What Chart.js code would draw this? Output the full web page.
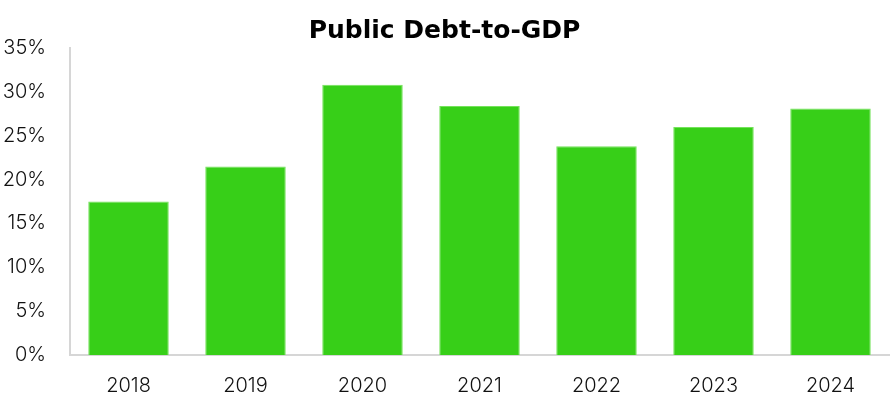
<!DOCTYPE html>
<html>
<head>
<meta charset="utf-8">
<script src="https://cdn.jsdelivr.net/npm/chart.js@4.4.1/dist/chart.umd.min.js"></script>
<style>
  html, body { margin: 0; padding: 0; background: #ffffff; }
  #wrap { width: 895px; height: 411px; }
</style>
</head>
<body>
<div id="wrap"><canvas id="debtChart" width="895" height="411"></canvas></div>
<script>
// === Data ===
const years = ['2018', '2019', '2020', '2021', '2022', '2023', '2024'];
const debtToGdp = [17.5, 21.5, 30.8, 28.4, 23.8, 26.0, 28.1];
const yTicks = [0, 5, 10, 15, 20, 25, 30, 35];

const BAR_GREEN = '#37cf18';
const BAR_EDGE = '#74e35a';
const AXIS_GREY = '#d6d6d6';
const FONT = "'Inter', 'Noto Sans', sans-serif";
const TITLE_FONT = "'DejaVu Sans', 'Noto Sans', sans-serif";

const ctx = document.getElementById('debtChart').getContext('2d');

new Chart(ctx, {
    type: 'bar',
    data: {
        labels: years,
        datasets: [
            {
                label: 'Public Debt-to-GDP',
                data: debtToGdp,
                backgroundColor: BAR_GREEN,
                borderColor: BAR_EDGE,
                borderWidth: { top: 1, left: 1, right: 1, bottom: 0 },
                categoryPercentage: 0.8,
                barPercentage: 0.86
            }
        ]
    },
    options: {
        responsive: false,
        animation: false,
        layout: { padding: { top: 0, right: 6, bottom: 0, left: 0 } },
        scales: {
            x: {
                afterFit: axis => { axis.height = 56; },
                grid: { display: false, drawTicks: false },
                border: { display: true, color: AXIS_GREY, width: 2 },
                ticks: {
                    color: '#111111',
                    padding: 19,
                    font: { family: FONT, size: 20, weight: 300 }
                }
            },
            y: {
                min: 0,
                max: 35,
                afterBuildTicks: axis => {
                    axis.ticks = yTicks.map(v => ({ value: v }));
                },
                afterFit: axis => { axis.width = 70; },
                grid: { display: false, drawTicks: false },
                border: { display: true, color: AXIS_GREY, width: 2 },
                ticks: {
                    color: '#111111',
                    padding: 24,
                    font: { family: FONT, size: 20, weight: 300 },
                    callback: v => v + '%'
                }
            }
        },
        plugins: {
            legend: { display: false },
            tooltip: { enabled: false },
            title: {
                display: true,
                text: 'Public Debt-to-GDP',
                color: '#000000',
                padding: { top: 16, bottom: 2 },
                font: { family: TITLE_FONT, size: 25, weight: 'bold' }
            }
        }
    }
});
</script>
</body>
</html>
